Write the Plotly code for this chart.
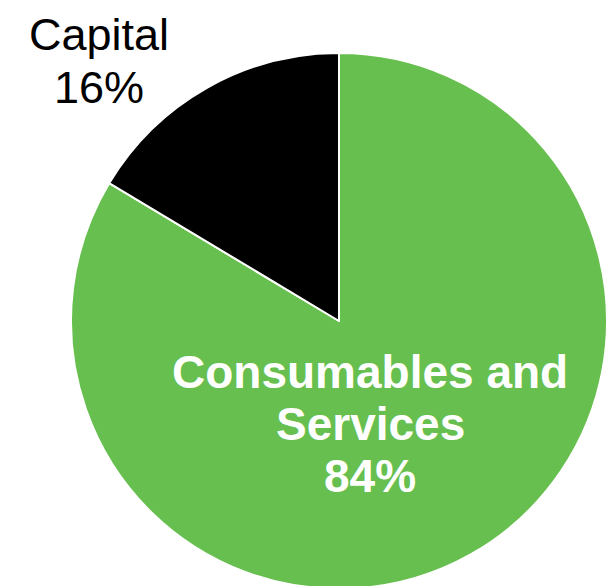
import plotly.graph_objects as go

categories = ["Consumables and Services", "Capital"]
shares = [83.6, 16.4]
label_lines = [["Consumables and", "Services"], ["Capital"]]
colors = ["#66BF4E", "#000000"]

# page body has an 8px margin, so figure coords = screen coords - 8
OFF = 8
W, H = 615 - OFF, 589 - OFF
ML, MT = 71 - OFF, 53 - OFF
MR, MB = W - ML - 536, 0
PW, PH = W - ML - MR, H - MT - MB


def px(x):
    return (x - OFF - ML) / PW


def py(y):
    return 1 - (y - OFF - MT) / PH


fig = go.Figure(go.Pie(
    labels=categories,
    values=shares,
    sort=False,
    direction="clockwise",
    rotation=0,
    domain=dict(x=[0, 1], y=[0, 1]),
    marker=dict(colors=colors, line=dict(color="white", width=2)),
    textinfo="none",
    hoverinfo="label+percent",
    showlegend=False,
))

total = sum(shares)
pct = [f"{round(100 * v / total)}%" for v in shares]

annotations = []
# Consumables label (inside, bold white)
cons_lines = label_lines[0] + [pct[0]]
for i, t in enumerate(cons_lines):
    annotations.append(dict(
        text=f"<b>{t}</b>", x=px(370), y=py(372 + 52 * i), xref="paper", yref="paper",
        xanchor="center", yanchor="middle", showarrow=False,
        font=dict(family="Liberation Sans, Arial, sans-serif", size=46, color="white"),
    ))
# Capital label (outside, black)
cap_lines = label_lines[1] + [pct[1]]
for i, t in enumerate(cap_lines):
    annotations.append(dict(
        text=t, x=px(98.5), y=py(34 + 53 * i), xref="paper", yref="paper",
        xanchor="center", yanchor="middle", showarrow=False,
        font=dict(family="Liberation Sans, Arial, sans-serif", size=45, color="black"),
    ))

fig.update_layout(
    width=W, height=H,
    margin=dict(l=ML, r=MR, t=MT, b=MB, pad=0),
    paper_bgcolor="white", plot_bgcolor="white",
    annotations=annotations,
)

fig.write_html("out.html")
